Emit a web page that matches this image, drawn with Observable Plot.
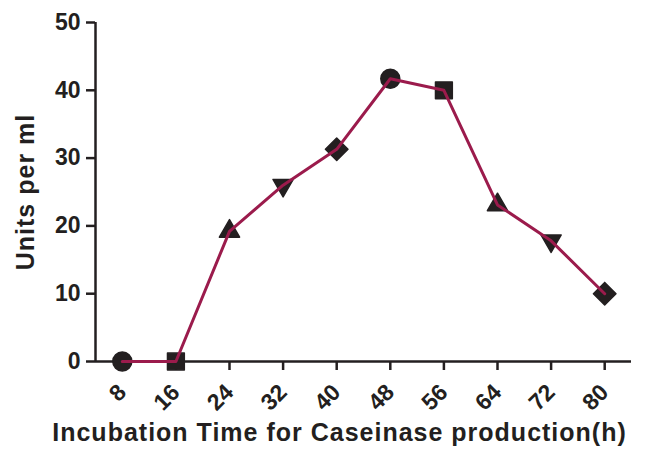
<!DOCTYPE html>
<html>
<head>
<meta charset="utf-8">
<script src="https://cdn.jsdelivr.net/npm/d3@7"></script>
<script src="https://cdn.jsdelivr.net/npm/@observablehq/plot@0.6"></script>
<style>
  html, body { margin: 0; padding: 0; background: #fff; }
  #chart svg { display: block; }
</style>
</head>
<body>
<div id="chart"></div>
<script>
// Data
const hours = [8, 16, 24, 32, 40, 48, 56, 64, 72, 80];
const unitsPerMl = [0, 0, 19.2, 26.0, 31.3, 41.7, 40.0, 23.1, 17.8, 10.0];
const yTicks = [0, 10, 20, 30, 40, 50];
const xLabel = "Incubation Time for Caseinase production(h)";
const yLabel = "Units per ml";

// Marker style cycle (GraphPad-like)
const markerShapes = ["circle", "square", "triangle", "triangle", "square"];
const markerRotate = [0, 0, 0, 180, 45];
const markerSize = [9.5, 9.5, 7.5, 7.5, 9];

const data = hours.map((h, i) => ({hour: h, units: unitsPerMl[i], i}));

const ink = "#231f20";
const lineColor = "#9b1b4c";
const font = "'Liberation Sans', Arial, sans-serif";

const chart = Plot.plot({
  width: 664,
  height: 454,
  marginLeft: 95,
  marginRight: 33,
  marginTop: 22,
  marginBottom: 93,
  style: {fontFamily: font, fontWeight: "bold", color: ink, background: "#fff"},
  x: {domain: [4, 84]},
  y: {domain: [0, 50]},
  r: {type: "identity"},
  marks: [
    Plot.ruleX([4], {y1: 0, y2: 50, stroke: ink, strokeWidth: 2.5}),
    Plot.ruleY([0], {stroke: ink, strokeWidth: 2.5}),
    Plot.axisY({
      ticks: yTicks, tickSize: 9, tickPadding: 6, strokeWidth: 2.5, stroke: ink,
      fontSize: 23, fontWeight: "bold", label: null, fill: ink
    }),
    Plot.axisX({
      ticks: hours, tickSize: 9, tickPadding: 18, tickRotate: -45, strokeWidth: 2.5, stroke: ink,
      fontSize: 23, fontWeight: "bold", label: null, fill: ink
    }),
    Plot.dot(data, {
      x: "hour", y: "units",
      symbol: d => markerShapes[d.i % 5],
      rotate: d => markerRotate[d.i % 5],
      r: d => markerSize[d.i % 5],
      fill: ink, stroke: ink, strokeWidth: 1.5, strokeLinejoin: "round"
    }),
    Plot.line(data, {x: "hour", y: "units", stroke: lineColor, strokeWidth: 3}),
    Plot.text([yLabel], {
      frameAnchor: "left", textAnchor: "middle", rotate: -90, dx: -70,
      fontSize: 25, fontWeight: "bold", fill: ink
    }),
    Plot.text([xLabel], {
      frameAnchor: "bottom", textAnchor: "middle", dx: -24, dy: 79.5,
      fontSize: 25, fontWeight: "bold", fill: ink
    })
  ]
});

chart.querySelectorAll("text").forEach(t => {
  if (t.textContent === xLabel || t.textContent === yLabel) t.style.letterSpacing = "1px";
});

document.getElementById("chart").appendChild(chart);
</script>
</body>
</html>
